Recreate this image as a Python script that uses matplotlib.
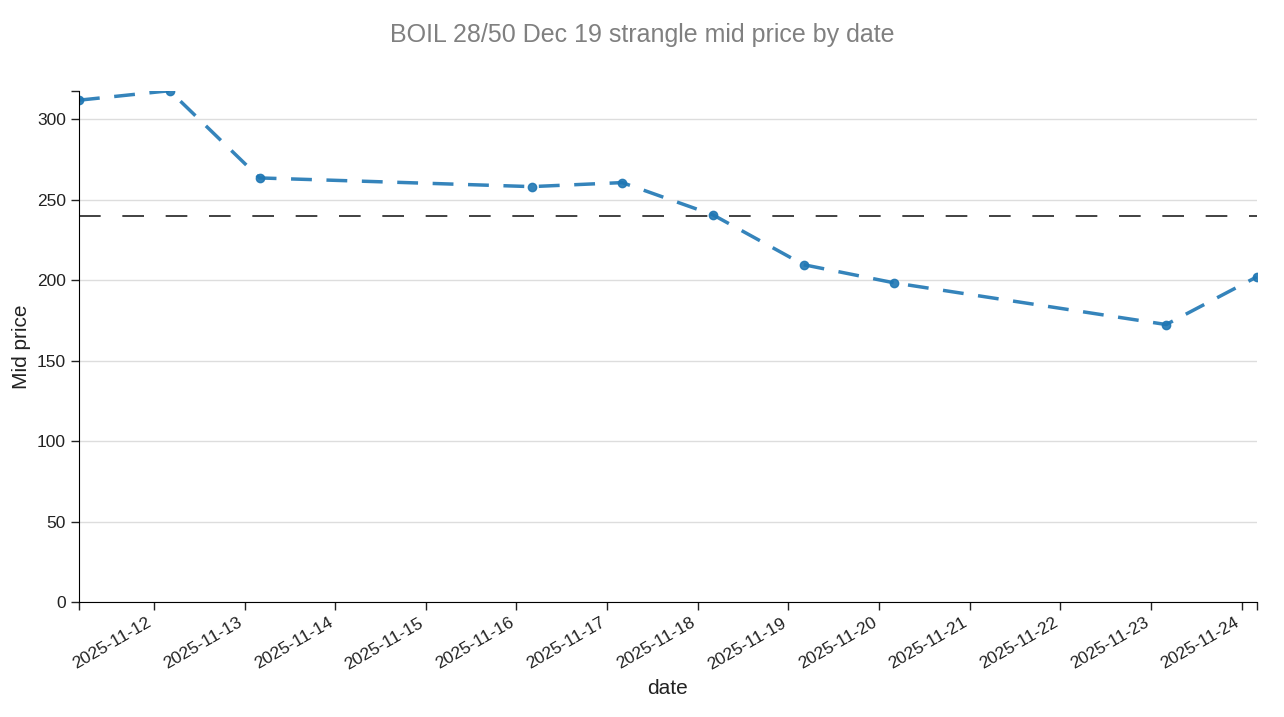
import numpy as np
import pandas as pd
import matplotlib
matplotlib.use("Agg")
import matplotlib.pyplot as plt
import matplotlib.dates as mdates

plt.rcParams['font.family'] = ['Liberation Sans', 'DejaVu Sans']

dates = pd.to_datetime(["2025-11-11 04:10", "2025-11-12 04:10", "2025-11-13 04:00",
                        "2025-11-16 04:00", "2025-11-17 04:00", "2025-11-18 04:00",
                        "2025-11-19 04:00", "2025-11-20 04:00", "2025-11-23 04:00",
                        "2025-11-24 04:00"])
mid_price = [311.8, 317.7, 263.5, 258.1, 260.6, 240.6, 209.6, 198.3, 172.4, 202.0]
ref_level = 240

fig = plt.figure(figsize=(12.84, 7.17), dpi=100)
ax = fig.add_axes([0.0615, 0.1604, 0.9173, 0.7131])

ax.plot(dates, mid_price, linestyle="--", color="#1f77b4", linewidth=2.5,
        dashes=(6, 4.2), marker="o", markersize=6, alpha=0.9)
ax.axhline(ref_level, color="#333333", linestyle="--", linewidth=1.3, dashes=(12, 12))

ax.set_xlim(dates.min(), dates.max())
ax.set_ylim(0, max(mid_price))
ax.yaxis.grid(True, color="#dddddd", linewidth=1)
ax.set_axisbelow(True)
for s in ["top", "right"]:
    ax.spines[s].set_visible(False)

ax.xaxis.set_major_locator(mdates.DayLocator())
ax.xaxis.set_major_formatter(mdates.DateFormatter("%Y-%m-%d"))
ax.set_xticks([mdates.date2num(dates.min()), mdates.date2num(dates.max())], minor=True)
ax.set_yticks([max(mid_price)], minor=True)
ax.tick_params(which="both", length=6, width=1, labelsize=12.5, colors="#222222")
plt.setp(ax.get_xticklabels(), rotation=30, ha="right")

ax.set_xlabel("date", fontsize=15, color="#222222", labelpad=5)
ax.set_ylabel("Mid price", fontsize=15, color="#222222")
fig.suptitle("BOIL 28/50 Dec 19 strangle mid price by date", fontsize=18,
             color="#808080", y=0.968)

fig.savefig("out.png", dpi=100)
